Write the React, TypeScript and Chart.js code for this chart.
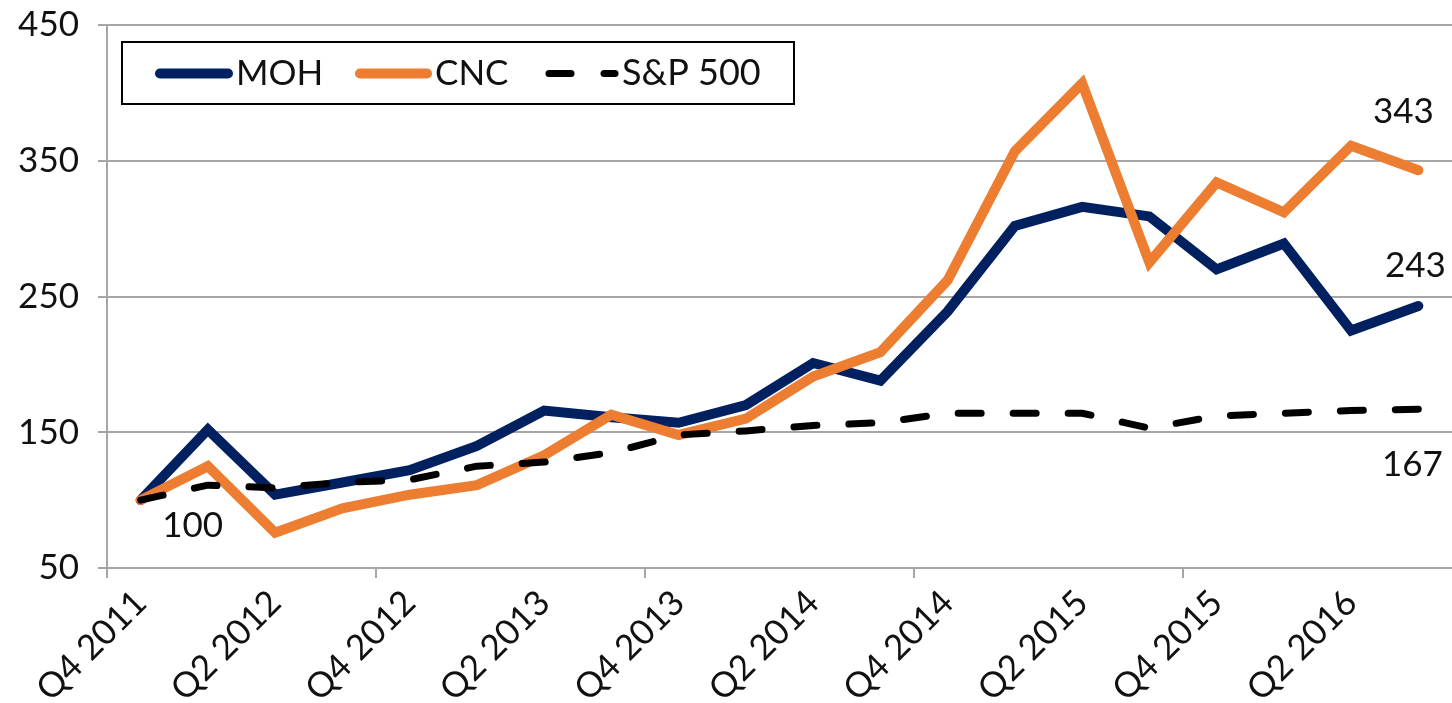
import React, { useEffect, useRef } from "react";
import { Chart, registerables } from "chart.js";

Chart.register(...registerables);

const categories = [
  "Q4 2011", "Q1 2012", "Q2 2012", "Q3 2012", "Q4 2012", "Q1 2013", "Q2 2013",
  "Q3 2013", "Q4 2013", "Q1 2014", "Q2 2014", "Q3 2014", "Q4 2014", "Q1 2015",
  "Q2 2015", "Q3 2015", "Q4 2015", "Q1 2016", "Q2 2016", "Q3 2016",
];
const mohValues = [100, 152, 104, 113, 122, 140, 166, 161, 157, 170, 201, 188, 239, 302, 316, 309, 270, 289, 225, 243];
const cncValues = [100, 125, 76, 94, 104, 111, 133, 163, 148, 160, 191, 209, 262, 357, 407, 275, 334, 312, 361, 343];
const spValues = [100, 111, 109, 113, 115, 125, 128, 135, 148, 151, 155, 157, 164, 164, 164, 153, 162, 164, 166, 167];
const seriesNames = ["MOH", "CNC", "S&P 500"];
const yMin = 50;
const yMax = 450;
const yStep = 100;

const FONT = "Lato, 'Open Sans', sans-serif";
const FONT_SIZE = 35;
const NAVY = "#002060";
const ORANGE = "#ED7D31";
const BLACK = "#000000";
const GRID = "#A6A6A6";
const TEXT = "#111111";

const annotatePlugin = {
  id: "annotate",
  afterDatasetsDraw(chart: any) {
    const ctx = chart.ctx;
    ctx.save();
    ctx.font = `${FONT_SIZE}px ${FONT}`;
    ctx.fillStyle = TEXT;
    ctx.textAlign = "center";
    ctx.textBaseline = "alphabetic";
    const moh = chart.getDatasetMeta(0).data;
    const cnc = chart.getDatasetMeta(1).data;
    const sp = chart.getDatasetMeta(2).data;
    const last = categories.length - 1;
    ctx.fillText(String(mohValues[0]), moh[0].x + 52, moh[0].y + 37);
    ctx.fillText(String(cncValues[last]), cnc[last].x - 15, cnc[last].y - 47);
    ctx.fillText(String(mohValues[last]), moh[last].x - 3, moh[last].y - 29);
    ctx.fillText(String(spValues[last]), sp[last].x - 6, sp[last].y + 67);

    // legend box
    ctx.fillStyle = "#ffffff";
    ctx.fillRect(122, 42, 672, 62);
    ctx.lineWidth = 2;
    ctx.strokeStyle = "#000";
    ctx.strokeRect(122, 42, 672, 62);
    const ly = 73.5;
    ctx.lineCap = "round";
    ctx.lineWidth = 10;
    ctx.strokeStyle = NAVY;
    ctx.beginPath(); ctx.moveTo(160, ly); ctx.lineTo(228, ly); ctx.stroke();
    ctx.strokeStyle = ORANGE;
    ctx.beginPath(); ctx.moveTo(360, ly); ctx.lineTo(427, ly); ctx.stroke();
    ctx.strokeStyle = BLACK;
    ctx.lineWidth = 7;
    ctx.beginPath(); ctx.moveTo(549, ly); ctx.lineTo(571, ly); ctx.stroke();
    ctx.beginPath(); ctx.moveTo(604, ly); ctx.lineTo(615, ly); ctx.stroke();
    ctx.fillStyle = TEXT;
    ctx.textAlign = "left";
    ctx.fillText(seriesNames[0], 236, 85);
    ctx.fillText(seriesNames[1], 435, 85);
    ctx.font = `${FONT_SIZE + 1}px ${FONT}`;
    ctx.fillText(seriesNames[2], 622, 85);
    ctx.restore();
  },
};

export default function App() {
  const canvasRef = useRef<HTMLCanvasElement | null>(null);

  useEffect(() => {
    document.body.style.margin = "0";
    document.body.style.overflow = "hidden";
    const canvas = canvasRef.current;
    if (!canvas) return;
    const chart = new Chart(canvas, {
      type: "line",
      data: {
        labels: categories,
        datasets: [
          {
            label: seriesNames[0],
            data: mohValues,
            borderColor: NAVY,
            backgroundColor: NAVY,
            borderWidth: 10,
            borderCapStyle: "round",
            borderJoinStyle: "miter",
            pointRadius: 0,
            tension: 0,
            order: 2,
          },
          {
            label: seriesNames[1],
            data: cncValues,
            borderColor: ORANGE,
            backgroundColor: ORANGE,
            borderWidth: 10,
            borderCapStyle: "round",
            borderJoinStyle: "miter",
            pointRadius: 0,
            tension: 0,
            order: 1,
          },
          {
            label: seriesNames[2],
            data: spValues,
            borderColor: BLACK,
            backgroundColor: BLACK,
            borderWidth: 7,
            borderDash: [23, 32],
            borderCapStyle: "round",
            borderJoinStyle: "round",
            pointRadius: 0,
            tension: 0,
            order: 0,
          },
        ],
      },
      options: {
        responsive: false,
        animation: false,
        maintainAspectRatio: false,
        layout: { padding: { top: 25, right: 0, left: 0, bottom: 0 } },
        plugins: {
          legend: { display: false },
          tooltip: { enabled: false },
        },
        scales: {
          x: {
            type: "category",
            offset: true,
            afterFit: (scale: any) => {
              scale.height = 135;
              scale.paddingLeft = 0;
              scale.paddingRight = 0;
            },
            border: { display: true, color: GRID, width: 2 },
            grid: {
              offset: true,
              drawOnChartArea: false,
              drawTicks: true,
              tickLength: 10,
              lineWidth: 2,
              color: (c: any) =>
                c.type === "tick" && c.index % 4 === 0 ? GRID : "rgba(0,0,0,0)",
            },
            ticks: {
              autoSkip: false,
              maxRotation: 45,
              minRotation: 45,
              padding: 4,
              color: TEXT,
              font: { family: FONT, size: FONT_SIZE },
              callback: (_v: any, i: number) => (i % 2 === 0 ? categories[i] : ""),
            },
          },
          y: {
            min: yMin,
            max: yMax,
            afterFit: (scale: any) => {
              scale.width = 107;
              scale.paddingTop = 0;
              scale.paddingBottom = 0;
            },
            border: { display: true, color: GRID, width: 2 },
            grid: {
              color: GRID,
              lineWidth: 2,
              tickLength: 9,
            },
            ticks: {
              stepSize: yStep,
              padding: 19,
              color: TEXT,
              font: { family: FONT, size: FONT_SIZE },
            },
          },
        },
      },
      plugins: [annotatePlugin],
    });
    return () => chart.destroy();
  }, []);

  return (
    <div style={{ width: 1452, height: 703, background: "#fff" }}>
      <canvas ref={canvasRef} width={1452} height={703} />
    </div>
  );
}
